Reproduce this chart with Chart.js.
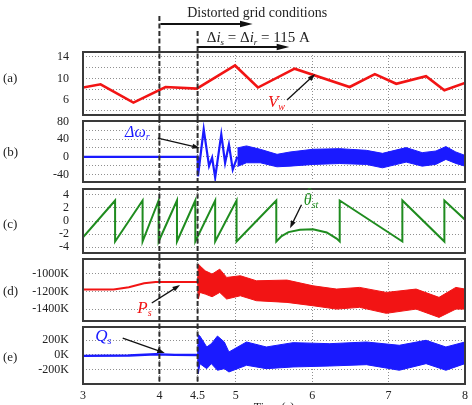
<!DOCTYPE html>
<html>
<head>
<meta charset="utf-8">
<script src="https://cdn.jsdelivr.net/npm/chart.js"></script>
<style>
html,body{margin:0;padding:0;background:#fff;overflow:hidden;}
#wrap{position:relative;width:472px;height:405px;overflow:hidden;}
#wrap canvas{position:absolute;left:0;}
</style>
</head>
<body>
<div id="wrap">
<canvas id="pa" width="472" height="123" style="top:0px"></canvas>
<canvas id="pb" width="472" height="77" style="top:113px"></canvas>
<canvas id="pc" width="472" height="80" style="top:181px"></canvas>
<canvas id="pd" width="472" height="78" style="top:251px"></canvas>
<canvas id="pe" width="472" height="96" style="top:319px"></canvas>
</div>
<script>
// shared time axis (s)
const timeTicks = [3, 4, 4.5, 5, 6, 7, 8];
const eventTimes = [4, 4.5];

// (a) wind speed Vw
const vwTime = [3.0, 3.23, 3.66, 4.08, 4.49, 4.99, 5.29, 5.77, 6.49, 6.82, 7.10, 7.49, 7.73, 8.0];
const vwValue = [8.3, 8.9, 5.5, 8.4, 8.1, 12.4, 8.3, 11.8, 8.4, 10.8, 9.0, 10.4, 7.8, 9.15];
const vwTicks = [4, 6, 8, 10, 12, 14];
const vwLabels = [6, 10, 14];

// (b) speed error, early trace + oscillation envelope
const dwTime = [3.0, 4.5, 4.505, 4.58, 4.65, 4.69, 4.73, 4.81, 4.86, 4.91, 4.96, 5.02];
const dwValue = [0, 0, -44, 62, -21, -2, -47, 51, -14, 28, -29, 0];
const dwBandTime = [5.02, 5.14, 5.32, 5.54, 5.71, 6.01, 6.36, 6.71, 6.92, 7.23, 7.44, 7.62, 7.75, 7.88, 8.0];
const dwBandHigh = [20, 24.6, 17, 5.6, 10.9, 17, 18.4, 14.6, 7.8, 20.8, 9.4, 13.1, 23.1, 10.9, 3.2];
const dwBandLow = [-22, -13.5, -13.5, -22.6, -21.1, -17.3, -15.2, -17.3, -24.9, -12, -21.1, -17, -5.9, -15, -21.1];
const dwTicks = [-40, -20, 0, 20, 40, 60, 80];
const dwLabels = [-40, 0, 40, 80];

// (c) estimated stator angle
const thetaTime = [3.0, 3.42, 3.42, 3.78, 3.78, 3.99, 3.99, 4.23, 4.23, 4.47, 4.47, 4.73, 4.73, 5.01, 5.01,
  5.53, 5.53, 5.6, 5.69, 5.84, 6.01, 6.19, 6.32, 6.36, 6.36, 7.18, 7.18, 7.73, 7.73, 8.0];
const thetaValue = [-2.5, 3.14, -3.14, 3.14, -3.14, 3.14, -3.14, 3.14, -3.14, 3.14, -3.14, 3.14, -3.14, 3.14, -3.14,
  3.14, -3.14, -2.3, -1.7, -1.35, -1.25, -1.75, -2.7, -3.14, 3.14, -3.14, 3.14, -3.14, 3.14, 0.2];
const thetaTicks = [-4, -2, 0, 2, 4];
const thetaLabels = [-4, -2, 0, 2, 4];

// (d) stator active power (K)
const psTime = [3.0, 3.4, 3.6, 3.8, 3.95, 4.5];
const psValue = [-1175, -1175, -1150, -1106, -1090, -1090];
const psBandTime = [4.5, 4.51, 4.53, 4.6, 4.69, 4.79, 4.88, 5.06, 5.27, 5.67, 6.01, 6.32, 6.62, 6.97, 7.36, 7.66, 7.88, 8.0];
const psBandHigh = [-1090, -888, -907, -964, -1001, -945, -1039, -1020, -1077, -1069, -1134, -1171, -1152, -1209, -1171, -1265, -1152, -1171];
const psBandLow = [-1090, -1284, -1209, -1228, -1258, -1209, -1284, -1247, -1303, -1322, -1360, -1398, -1378, -1446, -1398, -1492, -1398, -1398];
const psTicks = [-1400, -1200, -1000];
const psLabels = [-1400, -1200, -1000];

// (e) stator reactive power (K)
const qsTime = [3.0, 3.6, 3.95, 4.2, 4.5];
const qsValue = [-12, -8, 10, 2, 0];
const qsBandTime = [4.5, 4.51, 4.53, 4.62, 4.68, 4.76, 4.85, 4.91, 5.14, 5.40, 5.75, 6.23, 6.71, 7.14, 7.49, 7.75, 8.0];
const qsBandHigh = [0, 277, 258, 109, 154, 258, 177, 41, 177, 109, 168, 154, 177, 132, 200, 109, 177];
const qsBandLow = [0, -254, -118, -186, -118, -208, -186, -231, -140, -186, -163, -150, -132, -208, -118, -208, -118];
const qsTicks = [-200, 0, 200];
const qsLabels = [-200, 0, 200];

const serif = '"Liberation Serif", "Times New Roman", serif';
const RED = '#f21414', BLUE = '#1a1aff', GREEN = '#1f8c1f';

const pts = (t, v) => t.map((x, i) => ({x: x, y: v[i]}));
const line = (t, v, color, w) => ({data: pts(t, v), borderColor: color, borderWidth: w, pointRadius: 0, fill: false});
const band = (t, hi, lo, color) => [
  {data: pts(t, hi), borderColor: color, borderWidth: 1, backgroundColor: color, pointRadius: 0, fill: '+1'},
  {data: pts(t, lo), borderColor: color, borderWidth: 1, pointRadius: 0, fill: false}
];

function drawArrow(ctx, x1, y1, x2, y2, head, spread, width) {
  const a = Math.atan2(y2 - y1, x2 - x1);
  ctx.lineWidth = width;
  ctx.beginPath();
  ctx.moveTo(x1, y1);
  ctx.lineTo(x2 - head * 0.6 * Math.cos(a), y2 - head * 0.6 * Math.sin(a));
  ctx.stroke();
  ctx.beginPath();
  ctx.moveTo(x2, y2);
  ctx.lineTo(x2 - head * Math.cos(a - spread), y2 - head * Math.sin(a - spread));
  ctx.lineTo(x2 - head * Math.cos(a + spread), y2 - head * Math.sin(a + spread));
  ctx.closePath();
  ctx.fill();
}

function drawParts(ctx, parts, x, y) {
  let cx = x;
  for (const [txt, font, dy] of parts) {
    ctx.font = font;
    ctx.fillText(txt, cx, y + dy);
    cx += ctx.measureText(txt).width;
  }
  return cx;
}

function decor(p) {
  return {
    id: 'decor',
    afterDatasetsDraw(chart) {
      const {ctx, chartArea: ca} = chart;
      const xs = chart.scales.x, ys = chart.scales.y;
      ctx.save();
      ctx.strokeStyle = '#3a3a3a';
      ctx.lineWidth = 2;
      ctx.strokeRect(ca.left, ca.top, ca.right - ca.left, ca.bottom - ca.top);

      // event markers
      ctx.strokeStyle = '#2e2e2e';
      ctx.lineWidth = 2;
      ctx.setLineDash([5, 2.5]);
      eventTimes.forEach((t, i) => {
        const px = xs.getPixelForValue(t);
        const top = p.header ? [16, 31][i] : ca.top - 3;
        const bottom = p.last ? ca.bottom : ca.bottom + 3;
        ctx.beginPath();
        ctx.moveTo(px, top);
        ctx.lineTo(px, bottom);
        ctx.stroke();
      });
      ctx.setLineDash([]);

      // panel letter
      ctx.fillStyle = '#222';
      ctx.font = '13px ' + serif;
      ctx.textAlign = 'left';
      ctx.textBaseline = 'middle';
      ctx.fillText(p.letter, 3, ys.getPixelForValue(p.letterAt));

      // series annotation
      const n = p.note;
      ctx.textBaseline = 'alphabetic';
      ctx.fillStyle = n.color;
      const tx = xs.getPixelForValue(n.at[0]), ty = ys.getPixelForValue(n.at[1]);
      drawParts(ctx, n.parts, tx, ty);
      if (n.hat) {
        ctx.font = n.parts[0][1];
        const w = ctx.measureText(n.parts[0][0]).width;
        ctx.font = '13px ' + serif;
        ctx.textAlign = 'center';
        ctx.fillText('\u02C6', tx + w / 2 + 2, ty - 8);
        ctx.textAlign = 'left';
      }
      ctx.strokeStyle = '#111';
      ctx.fillStyle = '#111';
      drawArrow(ctx, xs.getPixelForValue(n.from[0]), ys.getPixelForValue(n.from[1]),
        xs.getPixelForValue(n.to[0]), ys.getPixelForValue(n.to[1]), 8, 0.33, 1.3);

      if (p.header) {
        ctx.fillStyle = '#222';
        ctx.font = '14px ' + serif;
        ctx.textAlign = 'center';
        ctx.textBaseline = 'middle';
        ctx.fillText('Distorted grid conditions', xs.getPixelForValue(5.28), 13);
        ctx.strokeStyle = '#111';
        ctx.fillStyle = '#111';
        drawArrow(ctx, xs.getPixelForValue(4) + 1, 24, xs.getPixelForValue(5.22), 24, 13, 0.25, 1.8);
        ctx.fillStyle = '#222';
        ctx.textAlign = 'left';
        ctx.textBaseline = 'alphabetic';
        const r = '15px ' + serif, it = 'italic 15px ' + serif, sb = 'italic 9px ' + serif;
        drawParts(ctx, [['\u0394', r, 0], ['i', it, 0], ['s', sb, 3], [' = \u0394', r, 0], ['i', it, 0], ['r', sb, 3], [' = 115 A', r, 0]],
          xs.getPixelForValue(4.62), 42);
        ctx.fillStyle = '#111';
        drawArrow(ctx, xs.getPixelForValue(4.5), 47, xs.getPixelForValue(5.70), 47, 13, 0.25, 1.8);
      }
      ctx.restore();
    }
  };
}

function makePanel(id, p, datasets) {
  return new Chart(document.getElementById(id), {
    type: 'line',
    data: {datasets: datasets},
    options: {
      responsive: false,
      animation: false,
      devicePixelRatio: 1,
      layout: {padding: {top: p.padTop, bottom: p.last ? 0 : 8, left: 0, right: 7}},
      plugins: {legend: {display: false}, tooltip: {enabled: false}},
      elements: {line: {tension: 0}, point: {radius: 0}},
      scales: {
        x: {
          type: 'linear', min: 3, max: 8,
          afterBuildTicks: s => { s.ticks = timeTicks.map(v => ({value: v})); },
          afterFit: s => { s.height = p.last ? 31 : 0; s.paddingLeft = 0; s.paddingRight = 0; },
          grid: {color: '#8f8f8f', lineWidth: 1, drawTicks: false, borderDash: [1, 2]},
          border: {display: false, dash: [1, 2]},
          ticks: {display: !!p.last, padding: 5, color: '#222', maxRotation: 0, autoSkip: false,
            font: {family: serif, size: 12}, callback: v => String(v)},
          title: {display: !!p.last, text: 'Time (s)', color: '#222', padding: {top: 0, bottom: 0},
            font: {family: serif, size: 12}}
        },
        y: {
          min: p.min, max: p.max,
          afterBuildTicks: s => { s.ticks = p.ticks.map(v => ({value: v})); },
          afterFit: s => { s.width = 83; s.paddingTop = 0; s.paddingBottom = 0; },
          grid: {color: '#8f8f8f', lineWidth: 1, drawTicks: false, borderDash: [1, 2]},
          border: {display: false, dash: [1, 2]},
          ticks: {padding: 14, color: '#222', autoSkip: false, font: {family: serif, size: 12},
            callback: v => p.labels.includes(v) ? v + p.unit : ''}
        }
      }
    },
    plugins: [decor(p)]
  });
}

makePanel('pa', {
  padTop: 52, min: 3.2, max: 14.9, ticks: vwTicks, labels: vwLabels, unit: '', header: true,
  letter: '(a)', letterAt: 9.9,
  note: {color: RED, at: [5.42, 4.7], from: [5.67, 6.0], to: [6.04, 10.8],
    parts: [['V', 'italic 17px ' + serif, 0], ['w', 'italic 10px ' + serif, 3]]}
}, [line(vwTime, vwValue, RED, 2.6)]);

makePanel('pb', {
  padTop: 8, min: -57, max: 81, ticks: dwTicks, labels: dwLabels, unit: '',
  letter: '(b)', letterAt: 10,
  note: {color: BLUE, at: [3.55, 44], from: [3.98, 42], to: [4.53, 20],
    parts: [['\u0394\u03C9', 'italic 16px ' + serif, 0], ['r', 'italic 10px ' + serif, 3]]}
}, [line(dwTime, dwValue, BLUE, 2.2)].concat(band(dwBandTime, dwBandHigh, dwBandLow, BLUE)));

makePanel('pc', {
  padTop: 8, min: -4.9, max: 4.9, ticks: thetaTicks, labels: thetaLabels, unit: '',
  letter: '(c)', letterAt: -0.5,
  note: {color: GREEN, at: [5.89, 2.4], hat: true, from: [5.86, 2.5], to: [5.71, -1.1],
    parts: [['\u03B8', 'italic 16px ' + serif, 0], ['st', 'italic 10px ' + serif, 3]]}
}, [line(thetaTime, thetaValue, GREEN, 2)]);

makePanel('pd', {
  padTop: 8, min: -1533, max: -830, ticks: psTicks, labels: psLabels, unit: 'K',
  letter: '(d)', letterAt: -1200,
  note: {color: RED, at: [3.71, -1440], from: [3.9, -1329], to: [4.27, -1125],
    parts: [['P', 'italic 17px ' + serif, 0], ['s', 'italic 10px ' + serif, 3]]}
}, [line(psTime, psValue, RED, 2)].concat(band(psBandTime, psBandHigh, psBandLow, RED)));

makePanel('pe', {
  padTop: 8, min: -395, max: 381, ticks: qsTicks, labels: qsLabels, unit: 'K', last: true,
  letter: '(e)', letterAt: -30,
  note: {color: BLUE, at: [3.16, 195], from: [3.52, 231], to: [4.07, 27],
    parts: [['Q', 'italic 17px ' + serif, 0], ['s', 'italic 10px ' + serif, 3]]}
}, [line(qsTime, qsValue, BLUE, 2.4)].concat(band(qsBandTime, qsBandHigh, qsBandLow, BLUE)));
</script>
</body>
</html>
